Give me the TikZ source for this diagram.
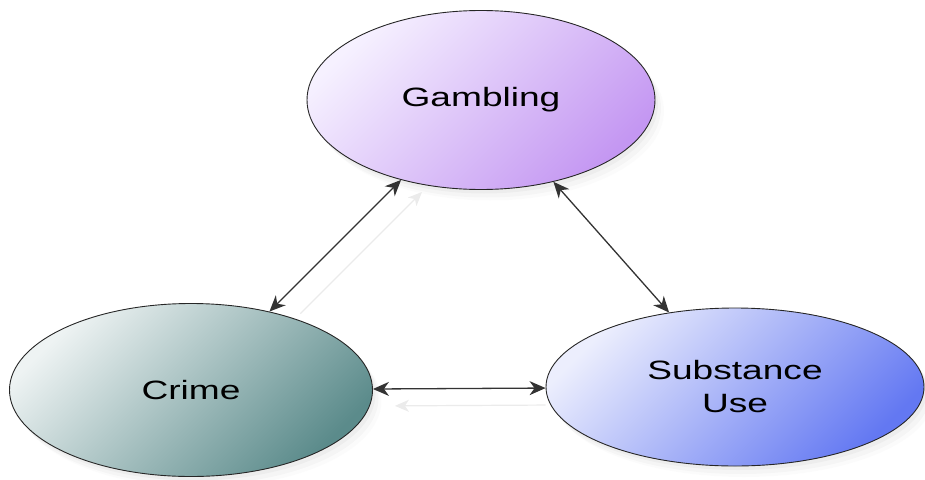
\documentclass[tikz,border=0pt]{standalone}
\usepackage{fontspec}
\setmainfont{Liberation Sans}
\usetikzlibrary{arrows.meta,shapes.geometric,shadows}
\definecolor{gamLight}{HTML}{F6F1FF}
\definecolor{gamDark}{HTML}{C497F2}
\definecolor{crmLight}{HTML}{EEF3F3}
\definecolor{crmDark}{HTML}{5B8B8B}
\definecolor{subLight}{HTML}{ECEEFD}
\definecolor{subDark}{HTML}{6378F2}
\newcommand{\wtxt}[1]{\scalebox{1.4}[1]{#1}}
\tikzset{
  x=1pt,y=1pt,
  softshadow/.style={
    drop shadow={shadow xshift=3pt,shadow yshift=-4pt,opacity=.07},
    drop shadow={shadow xshift=6pt,shadow yshift=-8pt,opacity=.05},
    drop shadow={shadow xshift=9pt,shadow yshift=-11pt,opacity=.03}},
  bubble/.style={ellipse, draw=black!85, line width=0.9pt, inner sep=0pt,
    softshadow, align=center,
    font=\fontsize{26.5}{35}\selectfont},
  link/.style={{Stealth[length=16pt,width=14pt,inset=5pt]}-{Stealth[length=16pt,width=14pt,inset=5pt]},
    draw=black!80, line width=1.3pt},
  ghost/.style={draw=black!8, line width=1.2pt}
}
\begin{document}
\begin{tikzpicture}
\useasboundingbox (0,0) rectangle (925,-479);
\node[bubble, minimum width=348, minimum height=179,
  top color=gamLight, bottom color=gamDark, shading angle=45]
  (g) at (481,-100) {\wtxt{Gambling}};
\node[bubble, minimum width=363, minimum height=173,
  top color=crmLight, bottom color=crmDark, shading angle=45]
  (c) at (191,-390) {\wtxt{Crime}};
\node[bubble, minimum width=378, minimum height=158,
  top color=subLight, bottom color=subDark, shading angle=45]
  (s) at (735,-387) {\wtxt{Substance}\\[-2pt]\wtxt{Use}};
% faint shadows of connectors
\draw[ghost, -{Stealth[length=14pt,width=12pt,inset=4pt]}, shorten <=14pt,
  transform canvas={xshift=21pt,yshift=-12pt}] (c) -- (g);
\draw[ghost, -{Stealth[length=14pt,width=12pt,inset=4pt]}, shorten >=22pt,
  transform canvas={xshift=0pt,yshift=-17pt}] (s) -- (c);
% connectors
\draw[link] (g) -- (c);
\draw[link] (g) -- (s);
\draw[link] (c) -- (s);
\end{tikzpicture}
\end{document}
